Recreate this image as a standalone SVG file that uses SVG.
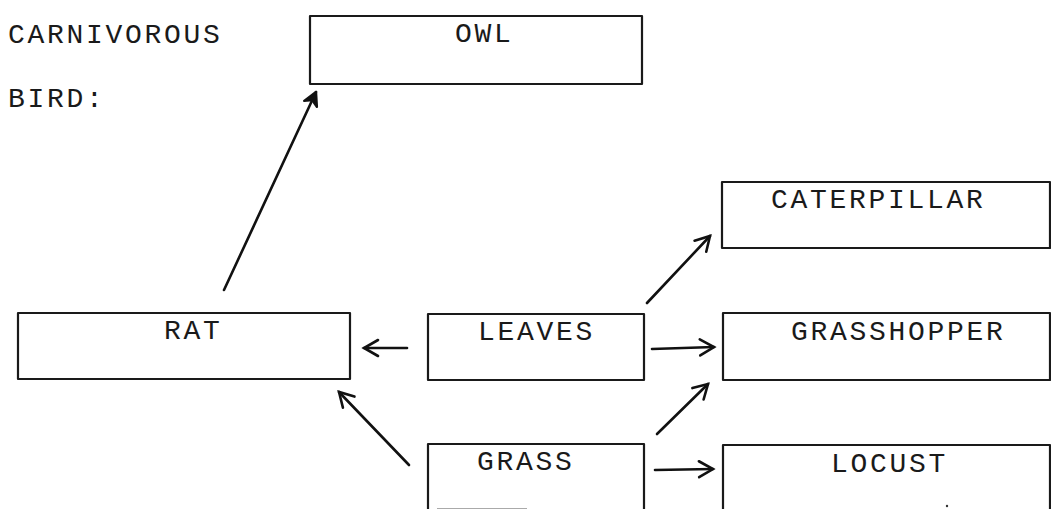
<svg xmlns="http://www.w3.org/2000/svg" width="1051" height="509" viewBox="0 0 1051 509">
<style>
.box{fill:none;stroke:#1a1a1a;stroke-width:2.2;stroke-linejoin:round}
.lbl{font-family:"Liberation Mono","DejaVu Sans Mono",monospace;font-size:28px;letter-spacing:2.7px;fill:#1a1a1a}
.con{fill:none;stroke:#111;stroke-width:2.6;stroke-linecap:round}
</style>
<defs>
<marker id="ah" markerUnits="userSpaceOnUse" markerWidth="30" markerHeight="30" viewBox="-15 -15 30 30" refX="0" refY="0" orient="auto" overflow="visible">
<path d="M-14,-8 L0,0 L-14,8" fill="none" stroke="#111" stroke-width="2.6" stroke-linecap="round" stroke-linejoin="miter"/>
</marker>
<marker id="ahf" markerUnits="userSpaceOnUse" markerWidth="30" markerHeight="30" viewBox="-15 -15 30 30" refX="0" refY="0" orient="auto" overflow="visible">
<path d="M-13,-7 L0,0 L-13,7 L-9,0 Z" fill="#111" stroke="#111" stroke-width="2.4" stroke-linejoin="round"/>
</marker>
</defs>
<rect width="1051" height="509" fill="#fff"/>
<text class="lbl" x="8" y="43">CARNIVOROUS</text>
<text class="lbl" x="8" y="107">BIRD:</text>
<g id="owl">
<rect class="box" x="310" y="16" width="332" height="68"/>
<text class="lbl" x="455" y="42">OWL</text>
</g>
<g id="caterpillar">
<rect class="box" x="722" y="182" width="328" height="66"/>
<text class="lbl" x="771" y="208">CATERPILLAR</text>
</g>
<g id="grasshopper">
<rect class="box" x="723" y="313" width="327" height="67"/>
<text class="lbl" x="791" y="340">GRASSHOPPER</text>
</g>
<g id="rat">
<rect class="box" x="18" y="313" width="332" height="66"/>
<text class="lbl" x="164" y="339">RAT</text>
</g>
<g id="leaves">
<rect class="box" x="428" y="314" width="216" height="66"/>
<text class="lbl" x="478" y="340">LEAVES</text>
</g>
<g id="grass">
<path class="box" d="M428,510 L428,444 L644,444 L644,510"/>
<line x1="437" y1="508.5" x2="527" y2="508.5" stroke="#aaa" stroke-width="1"/>
<text class="lbl" x="477" y="470">GRASS</text>
</g>
<g id="locust">
<path class="box" d="M723,510 L723,445 L1050,445 L1050,510"/>
<text class="lbl" x="831" y="472">LOCUST</text>
<circle cx="947" cy="506" r="1.2" fill="#333"/>
</g>
<g id="connectors">
<line class="con" x1="224" y1="290" x2="316" y2="92" marker-end="url(#ahf)"/>
<line class="con" x1="407" y1="348" x2="364" y2="348" marker-end="url(#ah)"/>
<line class="con" x1="409" y1="465" x2="339" y2="392" marker-end="url(#ah)"/>
<line class="con" x1="647" y1="303" x2="710" y2="236" marker-end="url(#ah)"/>
<line class="con" x1="652" y1="349" x2="714" y2="347" marker-end="url(#ah)"/>
<line class="con" x1="657" y1="434" x2="708" y2="384" marker-end="url(#ah)"/>
<line class="con" x1="655" y1="470" x2="713" y2="469" marker-end="url(#ah)"/>
</g>
</svg>
